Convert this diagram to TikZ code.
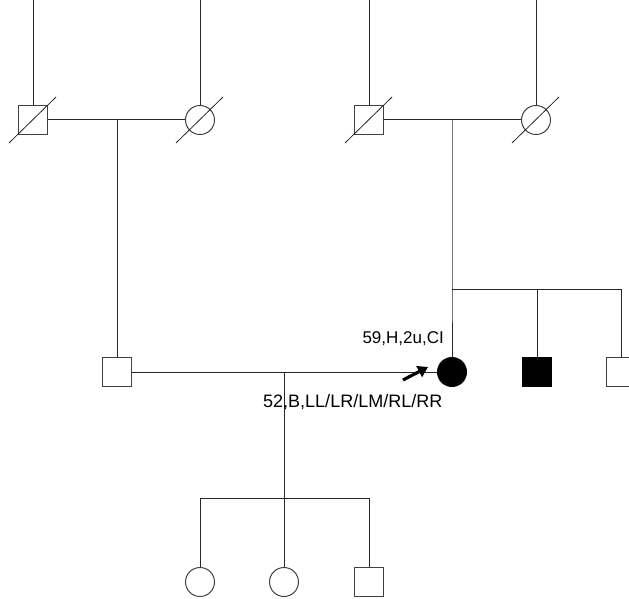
\documentclass[tikz,border=0pt]{standalone}
\usepackage{fontspec}
\setmainfont{Liberation Sans}
\usetikzlibrary{arrows.meta,calc}

\tikzset{
  male/.style={draw=black!75,line width=1pt,minimum size=29pt,inner sep=0pt,rectangle},
  female/.style={draw=black!75,line width=1pt,minimum size=29pt,inner sep=0pt,circle},
  affected/.style={fill=black,draw=black},
  pedline/.style={line width=1pt,black!85},
  deceased/.style={line width=0.8pt,black!85},
  probarrow/.style={line width=3.2pt,-{Triangle[length=10pt,width=12pt]}},
  pedlabel/.style={inner sep=0pt}
}

\begin{document}
\begin{tikzpicture}[x=1pt,y=-1pt]
\useasboundingbox (0,0) rectangle (629,599);

% grandparents, left
\node[male] (gf1) at (33,120) {};
\node[female] (gm1) at (200,120) {};
% grandparents, right
\node[male] (gf2) at (369,120) {};
\node[female] (gm2) at (536,120) {};

% parents and siblings
\node[male] (fa) at (117,372) {};
\node[female,affected] (pro) at (452,372) {};
\node[male,affected] (sib2) at (537,372) {};
\node[male] (sib3) at (621,372) {};

% children
\node[female] (k1) at (200,582) {};
\node[female] (k2) at (284,582) {};
\node[male] (k3) at (369,582) {};

\coordinate (t1) at (33,0);
\coordinate (t2) at (200,0);
\coordinate (t3) at (369,0);
\coordinate (t4) at (536,0);
\coordinate (m1) at (117,120);
\coordinate (m2) at (452,120);
\coordinate (s2) at (452,289);
\coordinate (s2b) at (537,289);
\coordinate (m3) at (284,372);
\coordinate (s3) at (284,498);

% lines to the top
\draw[pedline] (t1) -- (gf1);
\draw[pedline] (t2) -- (gm1);
\draw[pedline] (t3) -- (gf2);
\draw[pedline] (t4) -- (gm2);

% marriages and descent
\draw[pedline] (gf1) -- (gm1);
\draw[pedline] (m1) -- (fa);
\draw[pedline] (gf2) -- (gm2);
\draw[pedline] (m2) -- (s2) -- (pro);
\draw[pedline] (s2) -| (sib3);
\draw[pedline] (s2b) -- (sib2);
\draw[pedline] (fa) -- (pro);
\draw[pedline] (m3) -- (k2);
\draw[pedline] (s3) -| (k1);
\draw[pedline] (s3) -| (k3);

% deceased marks
\foreach \n in {gf1,gm1,gf2,gm2}
  \draw[deceased] ($(\n)+(-24,23)$) -- ($(\n)+(23,-23)$);

% proband
\coordinate (arrtail) at (403,380);
\coordinate (arrtip) at (428,367);
\draw[probarrow] (arrtail) -- (arrtip);

\node[pedlabel,anchor=east,font=\fontsize{17}{19}\selectfont] (lpro) at (444,339) {59,H,2u,CI};
\node[pedlabel,anchor=west,font=\fontsize{18}{20}\selectfont] (lfa) at (263,402) {52,B,LL/LR/LM/RL/RR};
\end{tikzpicture}
\end{document}
